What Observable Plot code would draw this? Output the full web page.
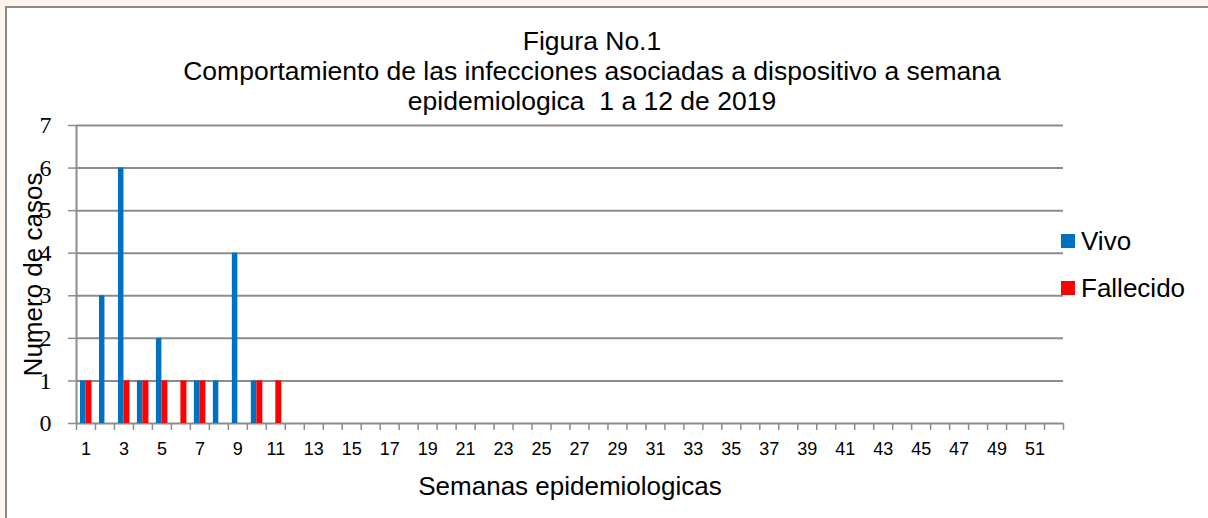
<!DOCTYPE html>
<html>
<head>
<meta charset="utf-8">
<script src="https://cdn.jsdelivr.net/npm/d3@7"></script>
<script src="https://cdn.jsdelivr.net/npm/@observablehq/plot@0.6"></script>
<style>
  html, body { margin: 0; padding: 0; background: #fdf5e9; }
  #wrap { position: relative; width: 1208px; height: 518px; overflow: hidden; }
  #frame { position: absolute; left: 5px; top: 6px; width: 1300px; height: 600px; background: #fff; border-left: 2px solid #8a8a8a; border-top: 2px solid #8a8a8a; }
  #plot { position: absolute; left: 0; top: 0; }
  #title { position: absolute; left: 92px; width: 1000px; top: 26px; text-align: center; font-family: "Liberation Sans", Arial, sans-serif; font-size: 26.5px; line-height: 30px; color: #000; }
  #legend { position: absolute; left: 1061px; top: 226px; font-family: "Liberation Sans", Arial, sans-serif; font-size: 26px; color: #000; }
  .item { display: flex; align-items: center; height: 30px; margin-bottom: 17px; }
  .sw { width: 14px; height: 14px; margin-right: 6px; }
</style>
</head>
<body>
<div id="wrap">
  <div id="frame"></div>
  <div id="plot"></div>
  <div id="title">Figura No.1<br>Comportamiento de las infecciones asociadas a dispositivo a semana<br>epidemiologica&nbsp; 1 a 12 de 2019</div>
  <div id="legend"></div>
</div>
<script>
const weeks = d3.range(1, 53);
const vivo      = [1, 3, 6, 1, 2, 0, 1, 1, 4, 1, 0];
const fallecido = [1, 0, 1, 1, 1, 1, 1, 0, 0, 1, 1];
const seriesNames = ["Vivo", "Fallecido"];
const seriesColors = ["#0070c0", "#ff0000"];
const yTicks = [0, 1, 2, 3, 4, 5, 6, 7];
const xTickLabels = d3.range(1, 52, 2);

const data = [];
weeks.forEach((w, i) => {
  data.push({week: w, series: "Vivo", value: vivo[i] ?? 0});
  data.push({week: w, series: "Fallecido", value: fallecido[i] ?? 0});
});
const vivoData = data.filter(d => d.series === "Vivo" && d.value > 0);
const fallData = data.filter(d => d.series === "Fallecido" && d.value > 0);

const grey = "#8c8c8c";
const sans = "Liberation Sans, Arial, sans-serif";
const chart = Plot.plot({
  width: 1208,
  height: 518,
  marginLeft: 76,
  marginRight: 145,
  marginTop: 125,
  marginBottom: 95,
  style: {background: "transparent", fontFamily: sans},
  x: {type: "linear", domain: [0.5, 52.5], axis: null},
  y: {domain: [0, 7], axis: null},
  marks: [
    Plot.gridY(yTicks.slice(1), {stroke: grey, strokeOpacity: 1, strokeWidth: 2}),
    Plot.ruleY([0], {stroke: grey, strokeWidth: 2}),
    Plot.ruleX([0.5], {y1: 0, y2: 7, stroke: grey, strokeWidth: 2}),
    Plot.rectY(vivoData, {x1: d => d.week - 0.5, x2: d => d.week + 0.5, y: "value", fill: seriesColors[0], insetLeft: 4, insetRight: 9.5}),
    Plot.rectY(fallData, {x1: d => d.week - 0.5, x2: d => d.week + 0.5, y: "value", fill: seriesColors[1], insetLeft: 9.5, insetRight: 3.5}),
    Plot.axisY({ticks: yTicks, tickSize: 8, tickFormat: () => "", stroke: grey, strokeWidth: 1.5, label: null}),
    Plot.axisX({ticks: d3.range(0.5, 53, 1), tickSize: 7, tickFormat: () => "", stroke: grey, strokeWidth: 1.5, label: null}),
    Plot.text(yTicks, {x: 0.5, y: d => d, dx: -25, textAnchor: "end", text: d => String(d), fontFamily: "Liberation Serif, Times New Roman, serif", fontSize: 24, fill: "black"}),
    Plot.text(xTickLabels, {x: d => d, y: 0, dy: 26, text: d => String(d), fontFamily: sans, fontSize: 18, fill: "black"}),
    Plot.text(["Numero de casos"], {frameAnchor: "left", textAnchor: "middle", rotate: -90, dx: -43, fontSize: 26, fontFamily: sans, fill: "black"}),
    Plot.text(["Semanas epidemiologicas"], {frameAnchor: "bottom", dy: 71, fontSize: 26, fontFamily: sans, fill: "black"})
  ]
});
document.getElementById("plot").appendChild(chart);

const legend = document.getElementById("legend");
seriesNames.forEach((name, i) => {
  const it = document.createElement("div");
  it.className = "item";
  it.innerHTML = `<div class="sw" style="background:${seriesColors[i]}"></div><span>${name}</span>`;
  legend.appendChild(it);
});
</script>
</body>
</html>
